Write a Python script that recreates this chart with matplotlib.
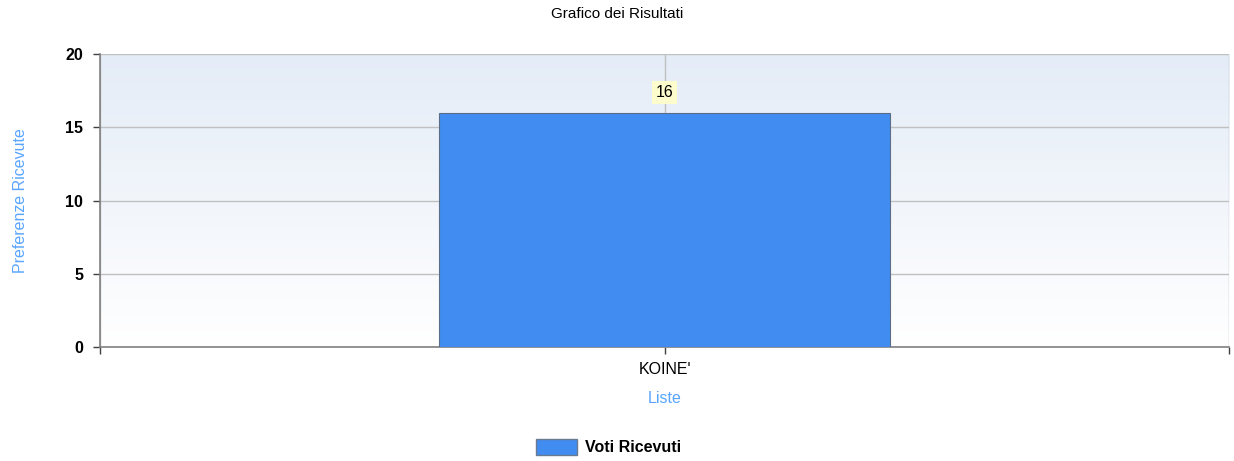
import numpy as np
import matplotlib.pyplot as plt
from matplotlib.patches import Patch
from matplotlib.colors import LinearSegmentedColormap

plt.rcParams['font.family'] = ['Liberation Sans', 'DejaVu Sans']

categories = ["KOINE'"]
voti = [16]
yticks = [0, 5, 10, 15, 20]

fig = plt.figure(figsize=(12.34, 4.61), dpi=100)
ax = fig.add_axes([0.081, 0.247, 0.915, 0.636])

# sfondo sfumato
grad = np.linspace(0, 1, 256).reshape(-1, 1)
cmap = LinearSegmentedColormap.from_list('bg', ['#ffffff', '#e4ecf7'])
ax.imshow(grad, extent=[-1, 1, 0, 20], origin='lower', aspect='auto', cmap=cmap, zorder=0)

x = np.arange(len(categories))
ax.bar(x, voti, width=0.8, color='#418cf0', edgecolor='#5a6e8c', linewidth=0.8, zorder=3)
for xi, v in zip(x, voti):
    ax.text(xi, v + 1.4, str(v), ha='center', va='center', fontsize=11.5,
            bbox=dict(boxstyle='square,pad=0.25', fc='#fdfccc', ec='none'), zorder=4)

ax.set_xlim(-1, 1)
ax.set_ylim(0, 20)
ax.set_yticks(yticks)
ax.set_yticklabels([str(t) for t in yticks], fontweight='bold', fontsize=11.5)
ax.set_xticks([-1, 0, 1])
ax.set_xticklabels(['', categories[0], ''], fontsize=11.5)
ax.grid(True, color='#c0c0c0', linewidth=1, zorder=1)
ax.set_axisbelow(True)
ax.tick_params(axis='both', direction='out', length=5, width=1, color='#404040')
ax.tick_params(axis='x', pad=6)
ax.tick_params(axis='y', pad=7)
for s in ['top', 'right']:
    ax.spines[s].set_visible(False)
for s in ['left', 'bottom']:
    ax.spines[s].set_color('#808080')
    ax.spines[s].set_linewidth(1.2)

ax.set_ylabel('Preferenze Ricevute', color='#5aa5ff', fontsize=11.5, labelpad=27)
ax.set_xlabel('Liste', color='#5aa5ff', fontsize=11.5, labelpad=10)
fig.suptitle('Grafico dei Risultati', fontsize=11, y=0.985)

fig.legend(handles=[Patch(facecolor='#418cf0', edgecolor='#6a7a90', label='Voti Ricevuti')],
           loc='center', bbox_to_anchor=(0.493, 0.03), frameon=False,
           prop={'weight': 'bold', 'size': 11.5}, handlelength=2.6, handleheight=1.2,
           handletextpad=0.5)

fig.savefig('out.png', dpi=100)
